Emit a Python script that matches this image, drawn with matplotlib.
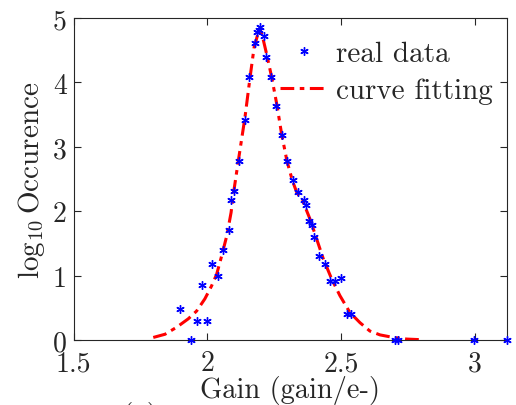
import matplotlib
matplotlib.use("Agg")
import matplotlib.pyplot as plt

plt.rcParams['font.family'] = 'serif'
plt.rcParams['font.serif'] = ['cmr10']
plt.rcParams['mathtext.fontset'] = 'cm'
plt.rcParams['axes.formatter.use_mathtext'] = True

# real data (gain, log10 occurrence)
gain_data = [1.939, 1.899, 1.960, 2.000, 1.979, 2.019, 2.040, 2.059, 2.080, 2.089,
             2.100, 2.120, 2.140, 2.157, 2.178, 2.187, 2.192, 2.197, 2.211, 2.218,
             2.239, 2.258, 2.280, 2.298, 2.320, 2.339, 2.360, 2.368, 2.380, 2.390,
             2.399, 2.419, 2.439, 2.459, 2.479, 2.499, 2.521, 2.537, 2.702, 2.714,
             2.999, 3.121]
occ_data = [0.00, 0.48, 0.30, 0.30, 0.85, 1.18, 1.00, 1.40, 1.71, 2.18,
            2.32, 2.78, 3.41, 4.08, 4.61, 4.78, 4.82, 4.86, 4.72, 4.40,
            4.08, 3.64, 3.19, 2.78, 2.48, 2.30, 2.17, 2.09, 1.85, 1.79,
            1.60, 1.30, 1.18, 0.91, 0.91, 0.96, 0.40, 0.40, 0.00, 0.00,
            0.00, 0.00]

# fitted curve
fit_gain = [1.798, 1.842, 1.886, 1.929, 1.960, 1.991, 2.016, 2.035, 2.054, 2.073,
            2.089, 2.097, 2.116, 2.141, 2.160, 2.175, 2.191, 2.199, 2.209, 2.222,
            2.241, 2.260, 2.278, 2.298, 2.318, 2.334, 2.359, 2.384, 2.409, 2.434,
            2.465, 2.496, 2.533, 2.571, 2.608, 2.646, 2.696, 2.746, 2.802]
fit_occ = [0.04, 0.09, 0.20, 0.33, 0.45, 0.64, 0.84, 1.02, 1.31, 1.62,
           1.98, 2.25, 2.78, 3.46, 4.08, 4.54, 4.78, 4.81, 4.67, 4.44,
           4.08, 3.66, 3.20, 2.78, 2.48, 2.30, 2.14, 1.88, 1.57, 1.26,
           0.95, 0.69, 0.43, 0.27, 0.14, 0.08, 0.04, 0.015, 0.005]

xticks = [1.5, 2, 2.5, 3]
xtick_labels = ['1.5', '2', '2.5', '3']
yticks = [0, 1, 2, 3, 4, 5]

fig = plt.figure(figsize=(5.16, 4.06), dpi=100)
ax = fig.add_axes([0.1426, 0.160, 0.840, 0.793])

ax.plot(gain_data, occ_data, linestyle='none', marker=(6, 2, 0), markersize=6,
        markeredgewidth=1.0, color='blue', label='real data', clip_on=False, zorder=3)
ax.plot(fit_gain, fit_occ, color='red', linewidth=2.2,
        linestyle=(0, (4.5, 1.8, 1.5, 1.8)), label='curve fitting', zorder=2)

ax.set_xlim(1.5, 3.121)
ax.set_ylim(0, 5)
ax.set_xticks(xticks)
ax.set_xticklabels(xtick_labels)
ax.set_yticks(yticks)
ax.set_yticklabels([str(v) for v in yticks])

axcol = '#262626'
for s in ax.spines.values():
    s.set_color(axcol)
    s.set_linewidth(0.8)
ax.tick_params(direction='in', length=5, width=0.8, colors=axcol,
               top=True, right=True, labelsize=20, labelcolor='#262626', pad=5)
ax.tick_params(axis='x', pad=7)

ax.set_xlabel('Gain (gain/e-)', fontsize=20.5, labelpad=-1, color='#262626')
ax.set_ylabel(r'$\log_{10}$Occurence', fontsize=21, labelpad=4, color='#262626')

leg = ax.legend(loc='upper right', frameon=False, fontsize=21,
                bbox_to_anchor=(1.0, 0.975), handlelength=1.6, handletextpad=0.3,
                labelspacing=0.35, borderaxespad=0.1)
for t in leg.get_texts():
    t.set_color('#262626')

fig.text(0.235, -0.045, '(a)', fontsize=21, color='#262626')

fig.savefig('out.png', dpi=100)
